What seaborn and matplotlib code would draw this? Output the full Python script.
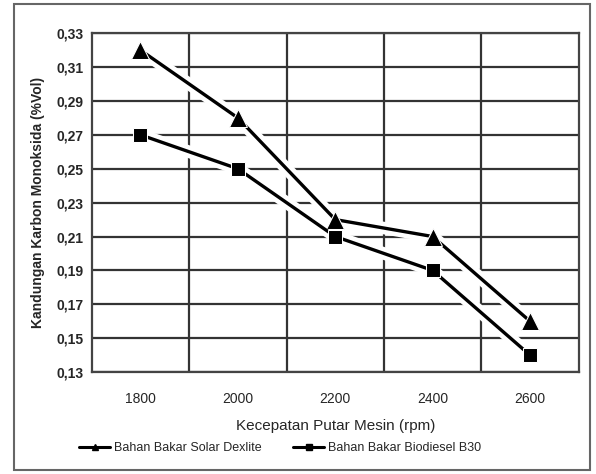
import numpy as np
import pandas as pd
import matplotlib.pyplot as plt
import seaborn as sns
from matplotlib.patches import Rectangle
from matplotlib.lines import Line2D

rpm = ["1800", "2000", "2200", "2400", "2600"]
solar_dexlite = [0.32, 0.28, 0.22, 0.21, 0.16]
biodiesel_b30 = [0.27, 0.25, 0.21, 0.19, 0.14]
series_names = ["Bahan Bakar Solar Dexlite", "Bahan Bakar Biodiesel B30"]
y_ticks = [0.13, 0.15, 0.17, 0.19, 0.21, 0.23, 0.25, 0.27, 0.29, 0.31, 0.33]

df = pd.DataFrame({
    "pos": list(range(len(rpm))) * 2,
    "value": solar_dexlite + biodiesel_b30,
    "series": [series_names[0]] * len(rpm) + [series_names[1]] * len(rpm),
})

sns.set_style("white")
plt.rcParams['font.family'] = ['Liberation Sans Narrow', 'Liberation Sans', 'DejaVu Sans']

fig = plt.figure(figsize=(5.96, 4.74), dpi=100)
ax = fig.add_axes([0.154, 0.215, 0.817, 0.715])

# white halo under the lines, like the Excel chart
for name in series_names:
    sub = df[df["series"] == name]
    ax.plot(sub["pos"], sub["value"], color="white", linewidth=9, zorder=2,
            solid_capstyle="round")

sns.lineplot(data=df, x="pos", y="value", hue="series", style="series",
             markers=["^", "s"], dashes=False, palette=["black", "black"],
             linewidth=2.4, markersize=10, ax=ax, legend=False, zorder=3)
# triangles look bigger than the squares in the original
for ln in ax.lines:
    if ln.get_marker() == "^":
        ln.set_markersize(13)

ax.set_xlim(-0.5, len(rpm) - 0.5)
ax.set_ylim(0.13, 0.33)
ax.set_xticks(range(len(rpm)))
ax.set_xticklabels(rpm, fontsize=10)
ax.set_xticks(np.arange(0.5, len(rpm) - 0.5, 1), minor=True)
ax.set_yticks(y_ticks)
ax.set_yticklabels([f"{v:.2f}".replace(".", ",") for v in y_ticks],
                   fontsize=10, fontweight="bold")
ax.tick_params(axis="x", which="major", length=0, pad=14)
ax.tick_params(axis="x", which="minor", length=0)
ax.tick_params(axis="y", length=0, pad=6)
ax.grid(axis="y", which="major", color="#333333", linewidth=1.6)
ax.grid(axis="x", which="minor", color="#333333", linewidth=1.6)
ax.set_axisbelow(True)
for s in ax.spines.values():
    s.set_color("#444444")
    s.set_linewidth(1.6)

ax.set_xlabel("Kecepatan Putar Mesin (rpm)", fontsize=11, labelpad=10)
ax.set_ylabel("Kandungan Karbon Monoksida (%Vol)", fontsize=10, fontweight="bold",
              labelpad=8)

handles = [Line2D([0], [0], color="black", marker="^", markersize=5, linewidth=2.2),
           Line2D([0], [0], color="black", marker="s", markersize=5, linewidth=2.2)]
fig.legend(handles, series_names, loc="center", bbox_to_anchor=(0.47, 0.055),
           ncol=2, frameon=False, fontsize=9, handlelength=2.5, columnspacing=2.5,
           handletextpad=0.3)

fig.patches.append(Rectangle((14 / 596, 4 / 474), 576 / 596, 466 / 474,
                             transform=fig.transFigure, fill=False,
                             edgecolor="#666666", linewidth=1.5))

fig.savefig("out.png", dpi=100)
